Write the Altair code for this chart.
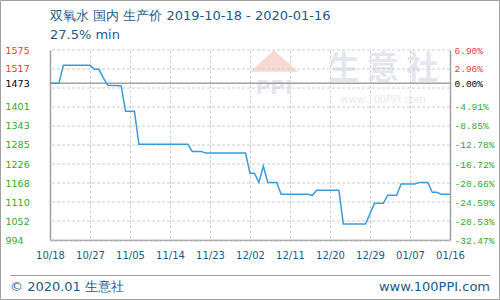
import altair as alt
import pandas as pd

# ---- data ----
dates = ["2019-10-18", "2019-10-20", "2019-10-21", "2019-10-27", "2019-10-28",
         "2019-10-29", "2019-10-30", "2019-10-31", "2019-11-03", "2019-11-04",
         "2019-11-06", "2019-11-07", "2019-11-18", "2019-11-19", "2019-11-21",
         "2019-11-22", "2019-12-01", "2019-12-02", "2019-12-03", "2019-12-04",
         "2019-12-05", "2019-12-06", "2019-12-08", "2019-12-09", "2019-12-15",
         "2019-12-16", "2019-12-17", "2019-12-22", "2019-12-23", "2019-12-28",
         "2019-12-30", "2020-01-01", "2020-01-02", "2020-01-04", "2020-01-05",
         "2020-01-08", "2020-01-09", "2020-01-11", "2020-01-12", "2020-01-13",
         "2020-01-14", "2020-01-16"]
prices = [1473, 1473, 1528, 1528, 1516,
          1516, 1490, 1467, 1466, 1388,
          1388, 1287, 1287, 1265, 1265,
          1260, 1260, 1198, 1198, 1170,
          1220, 1170, 1170, 1134, 1134,
          1130, 1146, 1146, 1043, 1043,
          1106, 1106, 1131, 1131, 1165,
          1165, 1170, 1170, 1140, 1140,
          1134, 1134]

base_value = 1473
y_min, y_max = 994, 1575
tick_values = [994, 1052, 1110, 1168, 1226, 1285, 1343, 1401, 1473, 1517, 1575]
left_labels = ["994", "1052", "1110", "1168", "1226", "1285", "1343", "1401", "1473", "1517", "1575"]
right_labels = ["-32.47%", "-28.53%", "-24.59%", "-20.66%", "-16.72%", "-12.78%",
                "-8.85%", "-4.91%", "0.00%", "2.96%", "6.90%"]
grid_values = [994, 1052.1, 1110.2, 1168.3, 1226.4, 1284.5, 1342.6, 1400.7, 1458.8, 1516.9, 1575]
x_tick_dates = [(2019, 10, 18), (2019, 10, 27), (2019, 11, 5), (2019, 11, 14), (2019, 11, 23),
                (2019, 12, 2), (2019, 12, 11), (2019, 12, 20), (2019, 12, 29), (2020, 1, 7),
                (2020, 1, 16)]

title_text = "双氧水 国内 生产价 2019-10-18 - 2020-01-16"
subtitle_text = "27.5% min"
footer_left = "© 2020.01 生意社"
footer_right = "www.100PPI.com"

TXT = "#1a5a8a"
RED = "#f03a3a"
GREEN = "#2eaa2e"
GRAY = "#a0a0a0"

df = pd.DataFrame({"date": dates, "price": prices})
grid_df = pd.DataFrame({"g": grid_values})
one = pd.DataFrame({"a": [0]})

def dt(t):
    return alt.DateTime(year=t[0], month=t[1], date=t[2], utc=True)

x_scale = alt.Scale(type="utc", domain=[dt(x_tick_dates[0]), dt(x_tick_dates[-1])])
y_scale = alt.Scale(domain=[y_min, y_max], nice=False, zero=False)

tv_js = "[" + ",".join(str(v) for v in tick_values) + "]"
left_js = "[" + ",".join("'%s'" % s for s in left_labels) + "]"
right_js = "[" + ",".join("'%s'" % s for s in right_labels) + "]"

label_color = {
    "condition": [
        {"test": "datum.value > %d" % (base_value + 5), "value": RED},
        {"test": "abs(datum.value - %d) < 2" % base_value, "value": "#000000"},
    ],
    "value": GREEN,
}

x_axis = alt.Axis(
    values=[dt(t) for t in x_tick_dates],
    labelExpr="utcFormat(datum.value, '%m/%d')",
    grid=True,
    gridColor="#cccccc",
    gridDash=[3, 2],
    gridWidth=1,
    ticks=False,
    tickSize=0,
    domain=True,
    domainColor=GRAY,
    domainWidth=1.5,
    labelColor=TXT,
    labelFont="DejaVu Sans",
    labelFontSize=10,
    labelPadding=10,
    title=None,
    labelFlush=False,
)

def x_enc():
    return alt.X("date:T", scale=x_scale, axis=x_axis)

grid = alt.Chart(grid_df).mark_rule(color="#cccccc", strokeDash=[3, 2], strokeWidth=1).encode(
    y=alt.Y("g:Q", scale=y_scale, axis=None)
)

baseline = alt.Chart(pd.DataFrame({"b": [base_value]})).mark_rule(color=GRAY, strokeWidth=1.5).encode(
    y=alt.Y("b:Q", scale=y_scale, axis=None)
)

line_left = alt.Chart(df).mark_line(color="#3d9ad8", strokeWidth=1.5, interpolate="linear").encode(
    x=x_enc(),
    y=alt.Y(
        "price:Q",
        scale=y_scale,
        axis=alt.Axis(
            orient="left",
            values=tick_values,
            labelExpr="%s[indexof(%s, round(datum.value))]" % (left_js, tv_js),
            labelColor=label_color,
            labelAlign="left",
            labelBaseline="middle",
            labelPadding=45,
            labelFont="DejaVu Sans",
            labelFontSize=9.5,
            ticks=False,
            tickSize=0,
            grid=False,
            domain=True,
            domainColor=GRAY,
            domainWidth=1.5,
            title=None,
        ),
    ),
)

line_right = alt.Chart(df).mark_line(opacity=0).encode(
    x=x_enc(),
    y=alt.Y(
        "price:Q",
        scale=y_scale,
        axis=alt.Axis(
            orient="right",
            values=tick_values,
            labelExpr="%s[indexof(%s, round(datum.value))]" % (right_js, tv_js),
            labelColor=label_color,
            labelAlign="left",
            labelBaseline="middle",
            labelPadding=4,
            labelFont="Liberation Mono",
            labelFontSize=9.5,
            ticks=False,
            tickSize=0,
            grid=False,
            domain=True,
            domainColor=GRAY,
            domainWidth=1.5,
            title=None,
        ),
    ),
)

def txt(text, x, y, size=13, color=TXT, align="left", font="DejaVu Sans", weight="normal"):
    return alt.Chart(one).mark_text(
        text=text, align=align, baseline="alphabetic", fontSize=size, color=color,
        font=font, fontWeight=weight
    ).encode(x=alt.value(x), y=alt.value(y))

watermark = txt("生 意 社", 333, 29, size=32, color="#e3e7ed", align="center", font="Noto Sans CJK SC", weight="bold")
watermark2 = txt("www.100PPI.com", 333, 53, size=10, color="#e8ebf0", align="center")
logo_roof = alt.Chart(one).mark_point(
    shape="M-1,0.45L0,-0.45L1,0.45Z", filled=True, fill="#f7d9d2", opacity=1, size=2300, strokeWidth=0
).encode(x=alt.value(224), y=alt.value(11))
logo_txt = txt("PPI", 224, 44, size=20, color="#e3e7ed", align="center", weight="bold")

title = txt(title_text, 0, -30)
subtitle = txt(subtitle_text, 0, -11)
foot_l = txt(footer_left, -40, 241)
foot_r = txt(footer_right, 440, 241, align="right")

foot_rule = alt.Chart(one).mark_rule(color=GRAY, strokeWidth=1).encode(
    x=alt.value(-40), x2=alt.value(440), y=alt.value(225.5)
)
border = alt.Chart(one).mark_rect(fill=None, stroke=GRAY, strokeWidth=1).encode(
    x=alt.value(-49.5), x2=alt.value(449.5), y=alt.value(-49.5), y2=alt.value(249.5)
)

chart = alt.layer(
    logo_roof, logo_txt, watermark, watermark2, grid, baseline, line_left, line_right,
    title, subtitle, foot_rule, foot_l, foot_r, border
).resolve_scale(y="shared").resolve_axis(y="independent").properties(
    width=400, height=190,
    autosize=alt.AutoSizeParams(type="none"),
    padding={"left": 50, "top": 50, "right": 50, "bottom": 60},
    background="white",
).configure_view(stroke=None)

chart.save("out.html", embed_options={"renderer": "svg", "actions": False})
